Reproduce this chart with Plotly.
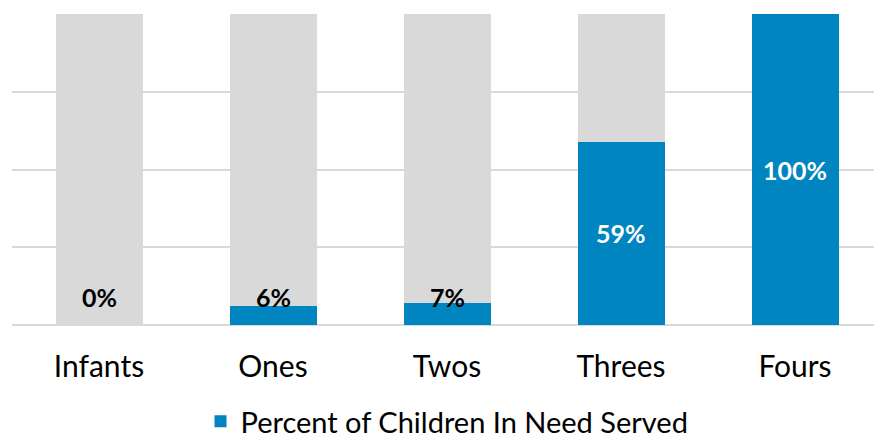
import plotly.graph_objects as go

categories = ["Infants", "Ones", "Twos", "Threes", "Fours"]
served = [0, 6, 7, 59, 100]
remainder = [100 - v for v in served]
label_text = [f"{v}%" for v in served]

BLUE = "#0085c1"
GREY = "#d9d9d9"

fig = go.Figure()
fig.add_trace(go.Bar(
    x=categories, y=served, name="Percent of Children In Need Served",
    marker=dict(color=BLUE, line=dict(width=0)), showlegend=True,
))
fig.add_trace(go.Bar(
    x=categories, y=remainder, name="Remainder",
    marker=dict(color=GREY, line=dict(width=0)), showlegend=False,
))

for c, v, t in zip(categories, served, label_text):
    fig.add_annotation(
        x=c, y=max(v / 2, 9), text=t, showarrow=False,
        font=dict(family="Lato", size=25, color="white" if v >= 50 else "black", weight="bold"),
        yanchor="middle", xanchor="center",
    )

fig.update_layout(
    width=874, height=432,
    barmode="stack", bargap=0.5,
    margin=dict(l=4, r=0, t=6, b=115, autoexpand=False),
    paper_bgcolor="white", plot_bgcolor="white",
    font=dict(family="Lato", color="black"),
    xaxis=dict(showgrid=False, showline=False, ticks="", ticklabelstandoff=21,
               tickfont=dict(size=30, family="Lato", color="black")),
    yaxis=dict(range=[0, 100], dtick=25, showgrid=True, gridcolor=GREY, gridwidth=2,
               showticklabels=False, zeroline=True, zerolinecolor=GREY, zerolinewidth=2),
    legend=dict(orientation="h", x=0.5, xanchor="center", y=-0.31, yanchor="middle",
                font=dict(size=29, family="Lato", color="black"), itemwidth=30),
)

fig.write_html("out.html")
